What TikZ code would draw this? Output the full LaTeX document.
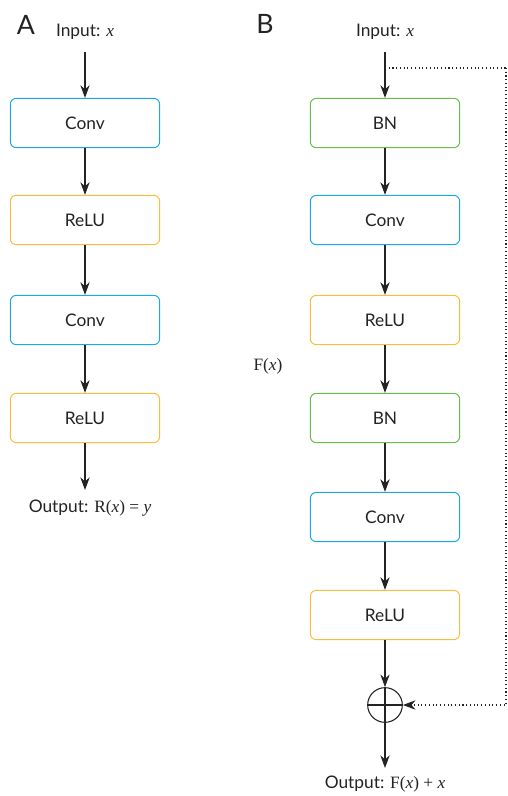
\documentclass[tikz,border=0pt]{standalone}
\usepackage{fontspec}
\setmainfont{Lato}
\newfontfamily\serif{Liberation Serif}
\usetikzlibrary{arrows.meta}
\definecolor{convblue}{RGB}{25,170,230}
\definecolor{reluorange}{RGB}{250,190,60}
\definecolor{bngreen}{RGB}{105,190,75}
\definecolor{txtgray}{RGB}{35,35,35}
\newcommand{\vx}{{\serif\itshape x}}

\begin{document}
\begin{tikzpicture}[x=0.75pt,y=-0.75pt,
    layer/.style={draw,rounded corners=4.5pt,line width=0.75pt,minimum width=112pt,minimum height=37pt,
        text=txtgray,font=\fontsize{13}{15}\selectfont},
    conv/.style={layer,draw=convblue},
    relu/.style={layer,draw=reluorange},
    bn/.style={layer,draw=bngreen},
    lbl/.style={text=txtgray,font=\fontsize{13}{15}\selectfont},
    flow/.style={-{Stealth[length=9.5pt,width=7pt]},line width=0.8pt,txtgray},
    skip/.style={dotted,line width=0.8pt,txtgray}]
    \useasboundingbox (0,0) rectangle (507,796);
    % panel A
    \node[font=\fontsize{20}{24}\selectfont,text=txtgray] (labA) at (26,25) {A};
    \node[lbl] (inA) at (85,32) {Input: \vx};
    \node[conv] (convA1) at (85,123) {Conv};
    \node[relu] (reluA1) at (85,220) {ReLU};
    \node[conv] (convA2) at (85,320) {Conv};
    \node[relu] (reluA2) at (85,418) {ReLU};
    \node[lbl] (outA) at (90,508) {Output: {\serif R(\textit{x}) = \textit{y}}};
    \coordinate (startA) at (85,52);
    \coordinate (endA) at (85,490);
    \draw[flow] (startA) -- (convA1);
    \draw[flow] (convA1) -- (reluA1);
    \draw[flow] (reluA1) -- (convA2);
    \draw[flow] (convA2) -- (reluA2);
    \draw[flow] (reluA2) -- (endA);
    % panel B
    \node[font=\fontsize{20}{24}\selectfont,text=txtgray] (labB) at (265,24) {B};
    \node[lbl] (inB) at (385,32) {Input: \vx};
    \node[bn] (bnB1) at (385,123) {BN};
    \node[conv] (convB1) at (385,220) {Conv};
    \node[relu] (reluB1) at (385,320) {ReLU};
    \node[bn] (bnB2) at (385,418) {BN};
    \node[conv] (convB2) at (385,517) {Conv};
    \node[relu] (reluB2) at (385,615) {ReLU};
    \node[lbl] (fx) at (268,366) {\serif F(\textit{x})};
    \node[circle,draw,line width=0.8pt,txtgray,minimum size=26pt,inner sep=0pt] (plus) at (385,705) {};
    \draw[line width=0.8pt,txtgray] (plus.north) -- (plus.south) (plus.west) -- (plus.east);
    \node[lbl] (outB) at (385,784) {Output: {\serif F(\textit{x}) + \textit{x}}};
    \coordinate (startB) at (385,52);
    \coordinate (split) at (385,68);
    \coordinate (corner) at (506,68);
    \coordinate (endB) at (385,768);
    \draw[flow] (startB) -- (bnB1);
    \draw[flow] (bnB1) -- (convB1);
    \draw[flow] (convB1) -- (reluB1);
    \draw[flow] (reluB1) -- (bnB2);
    \draw[flow] (bnB2) -- (convB2);
    \draw[flow] (convB2) -- (reluB2);
    \draw[flow] (reluB2) -- (plus);
    \draw[flow] (plus) -- (endB);
    \draw[skip] (split) -- (corner);
    \draw[skip,-{Stealth[length=9.5pt,width=7pt]}] (corner) |- (plus);
\end{tikzpicture}
\end{document}
